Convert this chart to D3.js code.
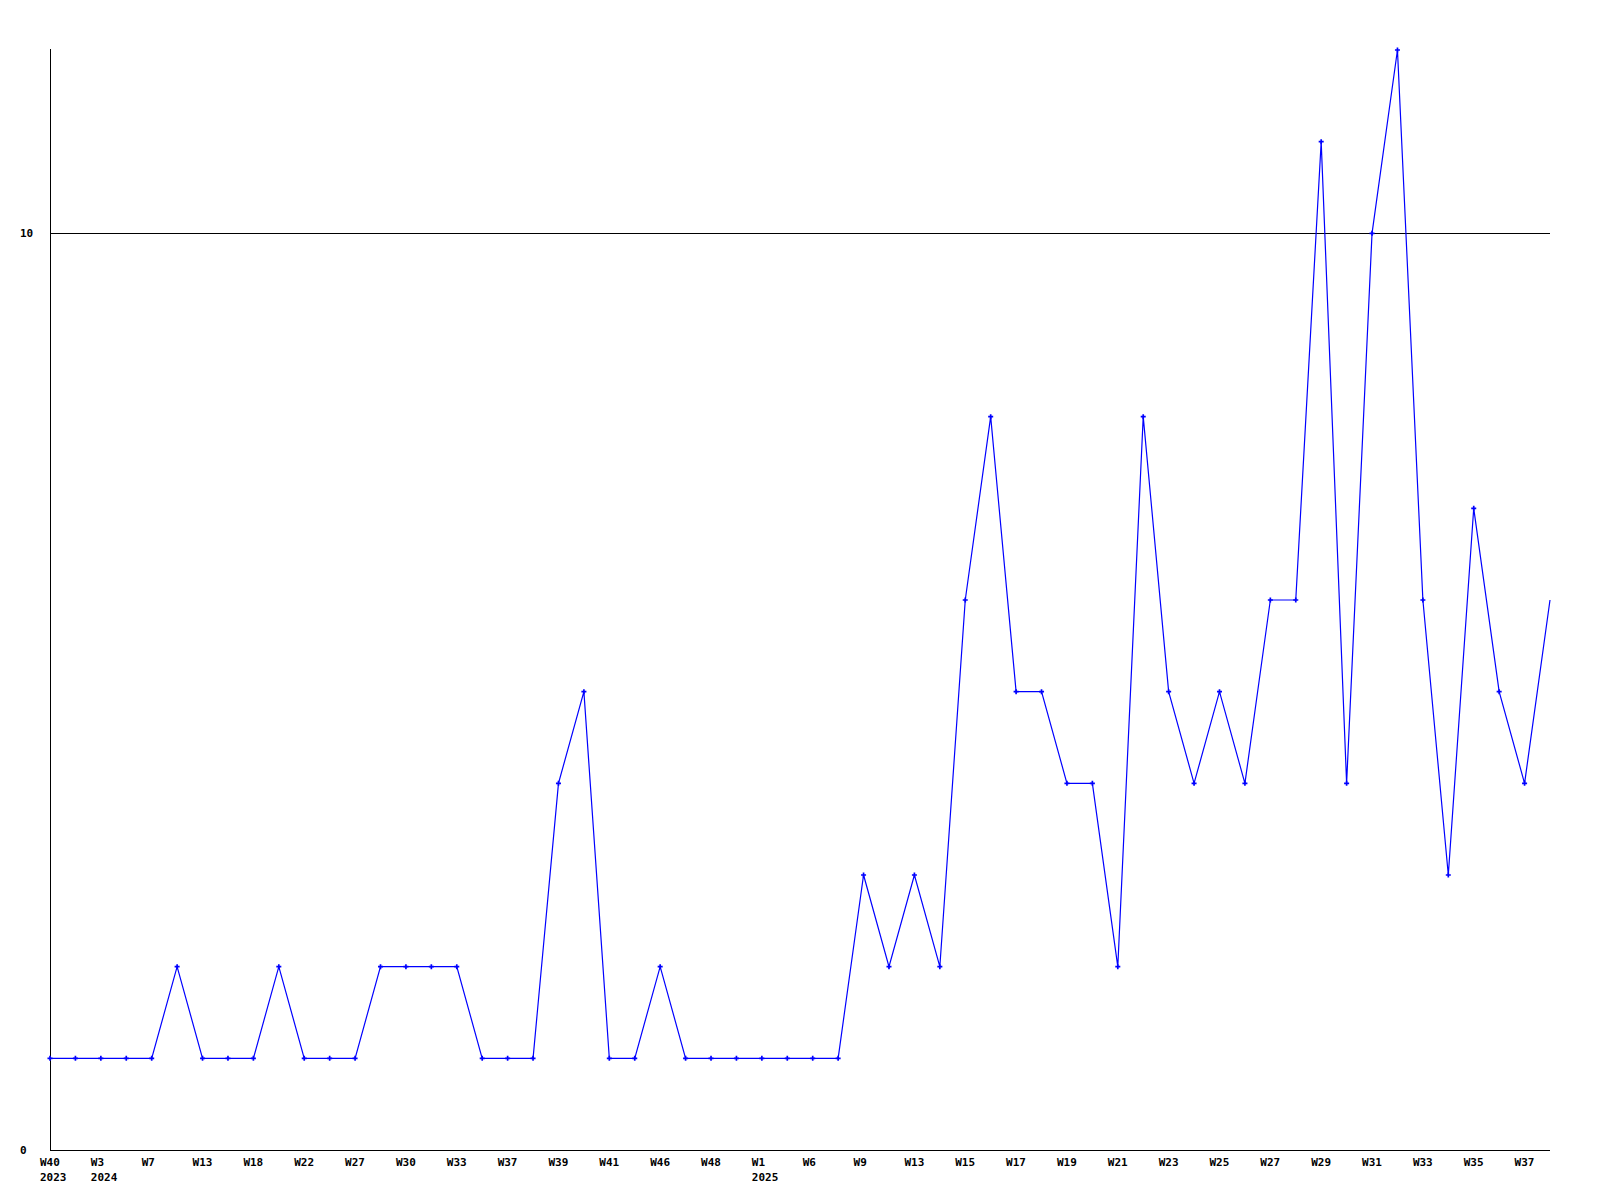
<!DOCTYPE html>
<html>
<head>
<meta charset="utf-8">
<script src="https://cdn.jsdelivr.net/npm/d3@7"></script>
<style>
  html, body { margin: 0; padding: 0; background: #fff; }
  svg { display: block; }
  .lbl { font-family: "DejaVu Sans Mono", monospace; font-weight: bold; font-size: 11px; fill: #000; }
</style>
</head>
<body>
<svg id="chart" width="1600" height="1200"></svg>
<script>
// weekly counts, one per sampled week
const values = [
  1, 1, 1, 1, 1, 2, 1, 1, 1, 2,
  1, 1, 1, 2, 2, 2, 2, 1, 1, 1,
  4, 5, 1, 1, 2, 1, 1, 1, 1, 1,
  1, 1, 3, 2, 3, 2, 6, 8, 5, 5,
  4, 4, 2, 8, 5, 4, 5, 4, 6, 6,
  11, 4, 10, 12, 6, 3, 7, 5, 4, 6
];

// labels on every second point
const weekLabels = [
  "W40", "W3", "W7", "W13", "W18", "W22", "W27", "W30", "W33", "W37",
  "W39", "W41", "W46", "W48", "W1", "W6", "W9", "W13", "W15", "W17",
  "W19", "W21", "W23", "W25", "W27", "W29", "W31", "W33", "W35", "W37"
];
const yearLabels = [
  { at: 0, text: "2023" },
  { at: 1, text: "2024" },
  { at: 14, text: "2025" }
];
const yTicks = [0, 10];

const svg = d3.select("#chart");
const plotLeft = 50, plotRight = 1550, plotTop = 49, plotBottom = 1150;

const x = d3.scaleLinear().domain([0, values.length - 1]).range([plotLeft, plotRight]);
const y = d3.scaleLinear().domain([0, 12]).range([plotBottom, 50]);

// axes
svg.append("line")
  .attr("x1", plotLeft + 0.5).attr("x2", plotLeft + 0.5)
  .attr("y1", plotTop).attr("y2", plotBottom)
  .attr("stroke", "#000").attr("stroke-width", 1);

svg.selectAll(".grid")
  .data(yTicks).enter().append("line")
  .attr("x1", plotLeft).attr("x2", plotRight)
  .attr("y1", d => Math.round(y(d)) + 0.5).attr("y2", d => Math.round(y(d)) + 0.5)
  .attr("stroke", "#000").attr("stroke-width", 1);

svg.selectAll(".ylbl")
  .data(yTicks).enter().append("text")
  .attr("class", "lbl")
  .attr("x", 20).attr("y", d => y(d) + 4)
  .text(d => d);

svg.selectAll(".xlbl")
  .data(weekLabels).enter().append("text")
  .attr("class", "lbl")
  .attr("x", (d, i) => x(i * 2) - 10)
  .attr("y", plotBottom + 16)
  .text(d => d);

svg.selectAll(".yrlbl")
  .data(yearLabels).enter().append("text")
  .attr("class", "lbl")
  .attr("x", d => x(d.at * 2) - 10)
  .attr("y", plotBottom + 31)
  .text(d => d.text);

// series
const line = d3.line().x((d, i) => x(i)).y(d => y(d));
svg.append("path")
  .datum(values)
  .attr("d", line)
  .attr("fill", "none")
  .attr("stroke", "#0000ff")
  .attr("stroke-width", 1.2);

svg.selectAll(".pt")
  .data(values.slice(0, -1)).enter().append("path")
  .attr("transform", (d, i) => `translate(${x(i)},${y(d)})`)
  .attr("d", d3.symbol().type(d3.symbolCross).size(14))
  .attr("fill", "#0000ff");
</script>
</body>
</html>
